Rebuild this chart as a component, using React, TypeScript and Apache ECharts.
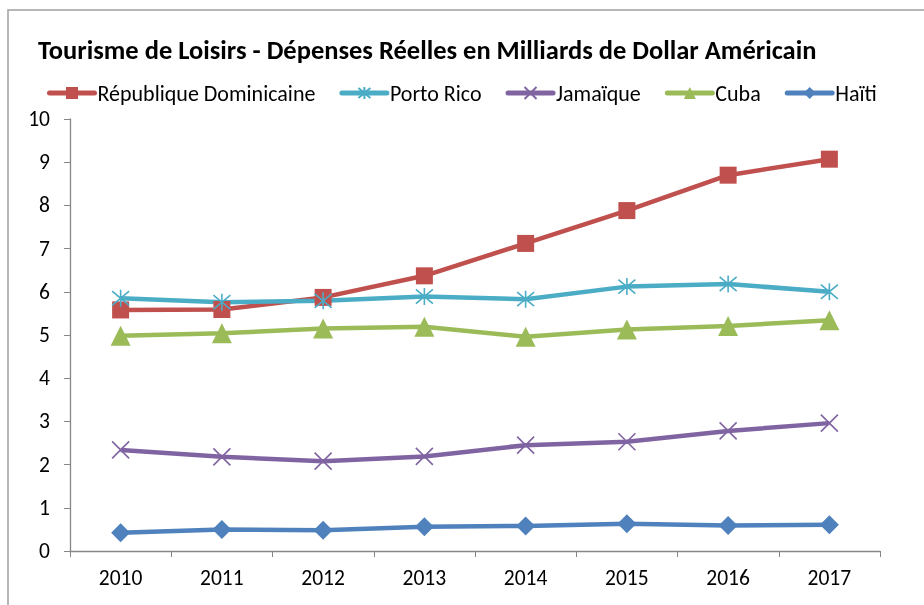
import React, { useEffect, useRef } from "react";
import * as echarts from "echarts";

const years = ["2010", "2011", "2012", "2013", "2014", "2015", "2016", "2017"];
const dominicaine = [5.58, 5.59, 5.87, 6.37, 7.12, 7.88, 8.7, 9.07];
const portoRico = [5.85, 5.76, 5.79, 5.89, 5.83, 6.12, 6.18, 6.0];
const jamaique = [2.34, 2.18, 2.08, 2.19, 2.45, 2.53, 2.78, 2.96];
const cuba = [4.98, 5.04, 5.15, 5.19, 4.96, 5.13, 5.21, 5.34];
const haiti = [0.42, 0.5, 0.48, 0.56, 0.58, 0.63, 0.59, 0.61];

const titleText = "Tourisme de Loisirs - Dépenses Réelles en Milliards de Dollar Américain";
const FONT = "Carlito, Lato, 'Open Sans', sans-serif";

export default function App() {
  const ref = useRef<HTMLDivElement>(null);
  useEffect(() => {
    document.body.style.margin = "0";
    if (!ref.current) return;
    const chart = echarts.init(ref.current, null, { renderer: "svg" });
    const mk = (name: string, data: number[], color: string, symbol: string, size: number, stroke = false) => ({
      name,
      type: "line",
      data,
      symbol,
      symbolSize: size,
      lineStyle: { color, width: 4.5 },
      itemStyle: stroke
        ? { color, borderColor: color, borderWidth: 1.6 }
        : { color },
      z: 2,
    });
    chart.setOption({
      animation: false,
      textStyle: { fontFamily: FONT },
      title: {
        text: titleText,
        left: 38,
        top: 36,
        padding: 0,
        textStyle: { fontFamily: FONT, fontSize: 26.5, fontWeight: "bold", color: "#000" },
      },
      legend: {
        left: 47,
        top: 82,
        padding: 0,
        itemWidth: 45,
        itemHeight: 15,
        itemGap: 24,
        lineStyle: { width: 5, cap: "round" },
        textStyle: { fontFamily: FONT, fontSize: 22, color: "#000", padding: [0, 0, 0, -2] },
        data: ["République Dominicaine", "Porto Rico", "Jamaïque", "Cuba", "Haïti"],
      },
      grid: { left: 70, right: 44, top: 119, bottom: 54, containLabel: false },
      xAxis: {
        type: "category",
        data: years,
        boundaryGap: true,
        axisLine: { lineStyle: { color: "#868686", width: 1.3 } },
        axisTick: { show: true, length: 6, alignWithLabel: false, lineStyle: { color: "#868686" } },
        axisLabel: { color: "#000", fontSize: 21.5, fontFamily: FONT, margin: 16 },
        splitLine: { show: false },
      },
      yAxis: {
        type: "value",
        min: 0,
        max: 10,
        interval: 1,
        axisLine: { show: true, lineStyle: { color: "#868686", width: 1.3 } },
        axisTick: { show: true, length: 6, lineStyle: { color: "#868686" } },
        axisLabel: { color: "#000", fontSize: 21.5, fontFamily: FONT, margin: 20 },
        splitLine: { show: false },
      },
      graphic: [
        {
          type: "rect",
          shape: { x: 8, y: 10, width: 1200, height: 1000 },
          style: { fill: "none", stroke: "#a0a0a0", lineWidth: 1.5 },
          silent: true,
        },
      ],
      series: [
        mk("République Dominicaine", dominicaine, "#c0504d", "rect", 17),
        mk("Porto Rico", portoRico, "#4bacc6", "path://M0,0L10,10M10,0L0,10M5,-1L5,11", 17, true),
        mk("Jamaïque", jamaique, "#8064a2", "path://M0,0L10,10M10,0L0,10", 17, true),
        mk("Cuba", cuba, "#9bbb59", "triangle", 20),
        mk("Haïti", haiti, "#4f81bd", "diamond", 19),
      ],
    });
    return () => chart.dispose();
  }, []);
  return (
    <div
      ref={ref}
      style={{ width: 924, height: 605, position: "fixed", left: 0, top: 0 }}
    />
  );
}
